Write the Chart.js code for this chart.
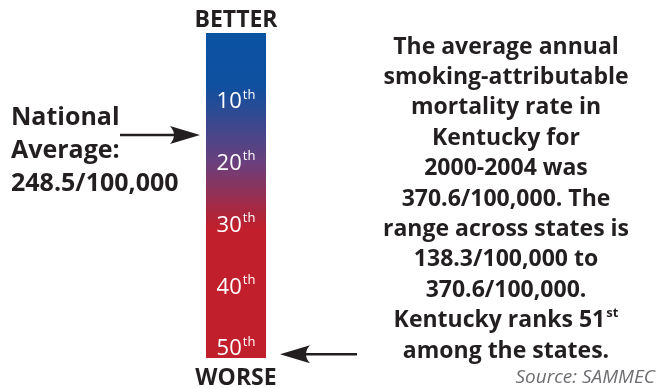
<!DOCTYPE html>
<html>
<head>
<meta charset="utf-8">
<script src="https://cdn.jsdelivr.net/npm/chart.js@4.4.1/dist/chart.umd.min.js"></script>
<style>
  html, body { margin: 0; padding: 0; background: #fff; }
  #wrap { width: 663px; height: 388px; }
</style>
</head>
<body>
<div id="wrap"><canvas id="rankChart"></canvas></div>
<script>
// ── Data ───────────────────────────────────────────────
const rankTicks = [10, 20, 30, 40, 50];
const rankRange = [-1, 51.6];          // extent of the ranking bar
const nationalRankPos = 15.5;          // where the national average arrow points
const kentuckyRank = 51;
const nationalLines = ['National', 'Average:', '248.5/100,000'];
const summaryLines = [
    'The average annual',
    'smoking-attributable',
    'mortality rate in',
    'Kentucky for',
    '2000-2004 was',
    '370.6/100,000. The',
    'range across states is',
    '138.3/100,000 to',
    '370.6/100,000.',
    'Kentucky ranks 51^st',
    'among the states.'
];
const topLabel = 'BETTER';
const bottomLabel = 'WORSE';
const sourceText = 'Source: SAMMEC';

const FONT = "'Open Sans', 'Noto Sans', sans-serif";
const INK = '#231f20';

// text with optional ^superscript part, drawn centered or left
function drawSup(ctx, text, x, y, size, align, color) {
    const parts = text.split('^');
    const main = parts[0], sup = parts[1] || '';
    ctx.fillStyle = color;
    ctx.textBaseline = 'middle';
    ctx.font = `bold ${size}px ${FONT}`;
    const wMain = ctx.measureText(main).width;
    ctx.font = `bold ${Math.round(size * 0.55)}px ${FONT}`;
    const wSup = sup ? ctx.measureText(sup).width + 1 : 0;
    let x0 = align === 'center' ? x - (wMain + wSup) / 2 : x;
    ctx.textAlign = 'left';
    ctx.font = `bold ${size}px ${FONT}`;
    ctx.fillText(main, x0, y);
    if (sup) {
        ctx.font = `bold ${Math.round(size * 0.55)}px ${FONT}`;
        ctx.fillText(sup, x0 + wMain + 1, y - size * 0.3);
    }
}

function arrow(ctx, tipX, tailX, y) {
    const dir = tipX > tailX ? 1 : -1;
    ctx.strokeStyle = INK;
    ctx.fillStyle = INK;
    ctx.lineWidth = 2.4;
    ctx.beginPath();
    ctx.moveTo(tailX, y);
    ctx.lineTo(tipX - 20 * dir, y);
    ctx.stroke();
    ctx.beginPath();
    ctx.moveTo(tipX, y);
    ctx.lineTo(tipX - 30 * dir, y - 9);
    ctx.quadraticCurveTo(tipX - 22 * dir, y, tipX - 30 * dir, y + 9);
    ctx.closePath();
    ctx.fill();
}

const overlay = {
    id: 'overlay',
    afterDatasetsDraw(chart) {
        const { ctx, chartArea } = chart;
        const ys = chart.scales.y;
        const cx = (chartArea.left + chartArea.right) / 2;
        ctx.save();

        // rank labels inside the bar
        rankTicks.forEach(r => {
            const y = ys.getPixelForValue(r);
            ctx.fillStyle = '#fff';
            ctx.textBaseline = 'middle';
            ctx.font = `22px ${FONT}`;
            const num = String(r);
            const wNum = ctx.measureText(num).width;
            ctx.font = `13px ${FONT}`;
            const wSup = ctx.measureText('th').width;
            const x0 = cx - (wNum + wSup + 1) / 2;
            ctx.font = `22px ${FONT}`;
            ctx.textAlign = 'left';
            ctx.fillText(num, x0, y + 1);
            ctx.font = `13px ${FONT}`;
            ctx.fillText('th', x0 + wNum + 1, y - 6);
        });

        // BETTER / WORSE
        ctx.fillStyle = INK;
        ctx.textAlign = 'center';
        ctx.textBaseline = 'middle';
        ctx.font = `bold 23px ${FONT}`;
        ctx.fillText(topLabel, cx, 20);
        ctx.fillText(bottomLabel, cx, 378);

        // national average note + arrow
        nationalLines.forEach((t, i) => drawSup(ctx, t, 11, 118 + i * 33, 25, 'left', INK));
        arrow(ctx, chartArea.left - 6, 120, ys.getPixelForValue(nationalRankPos));

        // Kentucky arrow
        arrow(ctx, chartArea.right + 14, 357, ys.getPixelForValue(kentuckyRank));

        // summary paragraph
        summaryLines.forEach((t, i) => drawSup(ctx, t, 506, 47 + i * 30.4, 23, 'center', INK));

        // source
        ctx.fillStyle = '#6d6e71';
        ctx.textAlign = 'right';
        ctx.font = `italic 19px ${FONT}`;
        ctx.fillText(sourceText, 655, 378);
        ctx.restore();
    }
};

new Chart(document.getElementById('rankChart'), {
    type: 'bar',
    data: {
        labels: [''],
        datasets: [{
            data: [rankRange],
            borderWidth: 0,
            backgroundColor(context) {
                const area = context.chart.chartArea;
                if (!area) return '#c01f2b';
                const g = context.chart.ctx.createLinearGradient(0, area.top, 0, area.bottom);
                g.addColorStop(0, '#0b52a3');
                g.addColorStop(0.16, '#0e50a0');
                g.addColorStop(0.4, '#6a3f7c');
                g.addColorStop(0.6, '#c01f2b');
                g.addColorStop(1, '#c01f2b');
                return g;
            },
            categoryPercentage: 1,
            barPercentage: 1
        }]
    },
    options: {
        responsive: true,
        maintainAspectRatio: false,
        animation: false,
        layout: { padding: { left: 206, right: 397, top: 33, bottom: 30 } },
        plugins: { legend: { display: false }, tooltip: { enabled: false } },
        scales: {
            x: { display: false },
            y: { display: false, reverse: true, min: rankRange[0], max: rankRange[1] }
        }
    },
    plugins: [overlay]
});
</script>
</body>
</html>
